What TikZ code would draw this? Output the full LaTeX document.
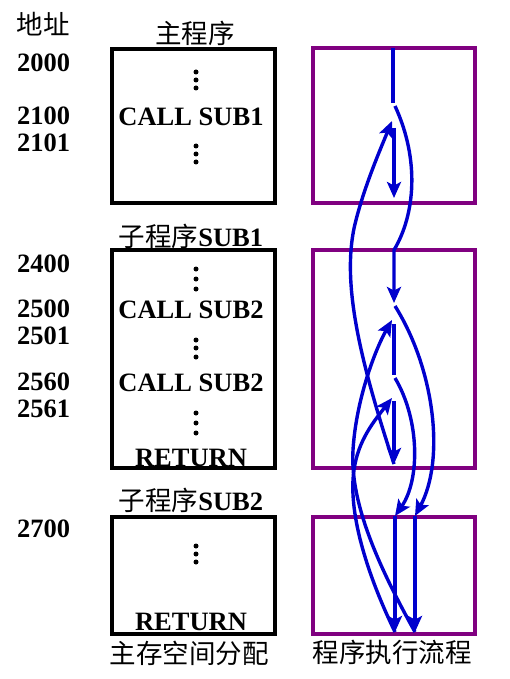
\documentclass[tikz,border=0pt]{standalone}
\usepackage{fontspec}
\setmainfont{Liberation Serif}
\newfontfamily\cjkfont{Noto Sans CJK SC}
\usetikzlibrary{arrows.meta}
\definecolor{flowblue}{RGB}{0,0,205}
\definecolor{boxpurple}{RGB}{128,0,128}
\begin{document}
\begin{tikzpicture}[x=1pt,y=-1pt,
  lbl/.style={font=\fontsize{26.5}{30}\selectfont\bfseries, inner sep=0pt},
  cjk/.style={font=\fontsize{26.5}{30}\selectfont\cjkfont, inner sep=0pt},
  membox/.style={draw=black, line width=3.2pt},
  flowbox/.style={draw=boxpurple, line width=3.2pt},
  dotmark/.style={fill=black},
  flow/.style={draw=flowblue, line width=3.4pt},
  flowarrow/.style={flow, -{Stealth[length=16pt,width=14pt,inset=3.5pt]}}]
\useasboundingbox (0,0) rectangle (510,679);

% titles
\node[cjk] (addr) at (43,24) {地址};
\node[cjk] (tmain) at (195,33) {主程序};
\node[cjk, anchor=base] (tsub1) at (191,246) {子程序{\normalfont\bfseries SUB1}};
\node[cjk, anchor=base] (tsub2) at (191,510) {子程序{\normalfont\bfseries SUB2}};
\node[cjk] (tmem) at (189,653) {主存空间分配};
\node[cjk] (tflow) at (392,652) {程序执行流程};

% addresses
\node[lbl, anchor=base west] (a2000) at (17,72) {2000};
\node[lbl, anchor=base west] (a2100) at (17,125) {2100};
\node[lbl, anchor=base west] (a2101) at (17,152) {2101};
\node[lbl, anchor=base west] (a2400) at (17,272) {2400};
\node[lbl, anchor=base west] (a2500) at (17,317) {2500};
\node[lbl, anchor=base west] (a2501) at (17,344) {2501};
\node[lbl, anchor=base west] (a2560) at (17,390) {2560};
\node[lbl, anchor=base west] (a2561) at (17,417) {2561};
\node[lbl, anchor=base west] (a2700) at (17,537) {2700};

% memory boxes
\draw[membox] (112,49) rectangle (275,203);
\draw[membox] (112,250) rectangle (275,468);
\draw[membox] (112,517) rectangle (275,634);

\node[lbl, anchor=base] (call1) at (191,126) {CALL SUB1};
\node[lbl, anchor=base] (call2) at (191,318) {CALL SUB2};
\node[lbl, anchor=base] (call3) at (191,391) {CALL SUB2};
\node[lbl, anchor=base] (ret1) at (191,466) {RETURN};
\node[lbl, anchor=base] (ret2) at (191,630) {RETURN};

% vertical dots
\foreach \yy in {72,80,88, 146,154,162, 269,279,289, 340,348,357, 413,423,433, 546,554,562}
  \fill[dotmark] (196,\yy) circle (2.5);

% flow boxes
\draw[flowbox] (313,48) rectangle (475,203);
\draw[flowbox] (313,250) rectangle (475,468);
\draw[flowbox] (313,517) rectangle (475,634);

% flow coordinates
\coordinate (m0) at (393,48);
\coordinate (m1) at (393,103);
\coordinate (c1s) at (395,106);
\coordinate (s1a) at (394,250);
\coordinate (s1b) at (394,303);
\coordinate (c2s) at (395,306);
\coordinate (r1e) at (392,320);
\coordinate (s1c) at (394,324);
\coordinate (s1d) at (394,375);
\coordinate (c3s) at (395,378);
\coordinate (r2e) at (392,398);
\coordinate (s1e) at (394,401);
\coordinate (s1f) at (394,464);
\coordinate (rme) at (392,121);
\coordinate (m2) at (394,128);
\coordinate (m3) at (394,198);
\coordinate (qa) at (395,516);
\coordinate (qb) at (415,516);
\coordinate (qa2) at (395,632);
\coordinate (qb2) at (415,632);

% main program
\draw[flow] (m0) -- (m1);
% call SUB1
\draw[flowarrow] (c1s) .. controls (420,160) and (415,215) .. (s1a) -- (s1b);
% first call SUB2
\draw[flowarrow] (c2s) .. controls (435,370) and (445,460) .. (qb);
\draw[flowarrow] (qb) -- (qb2);
% return to 2501
\draw[flowarrow] (qb2) .. controls (375,560) and (350,500) .. (353,450)
  .. controls (356,400) and (375,350) .. (r1e);
\draw[flow] (s1c) -- (s1d);
% second call SUB2
\draw[flowarrow] (c3s) .. controls (420,420) and (420,480) .. (qa);
\draw[flowarrow] (qa) -- (qa2);
% return to 2561
\draw[flowarrow] (qa2) .. controls (365,570) and (348,510) .. (354,470)
  .. controls (358,440) and (375,420) .. (r2e);
\draw[flowarrow] (s1e) -- (s1f);
% return to main 2101
\draw[flowarrow] (s1f) .. controls (360,360) and (340,280) .. (356,220)
  .. controls (365,185) and (380,150) .. (rme);
\draw[flowarrow] (m2) -- (m3);
\end{tikzpicture}
\end{document}
